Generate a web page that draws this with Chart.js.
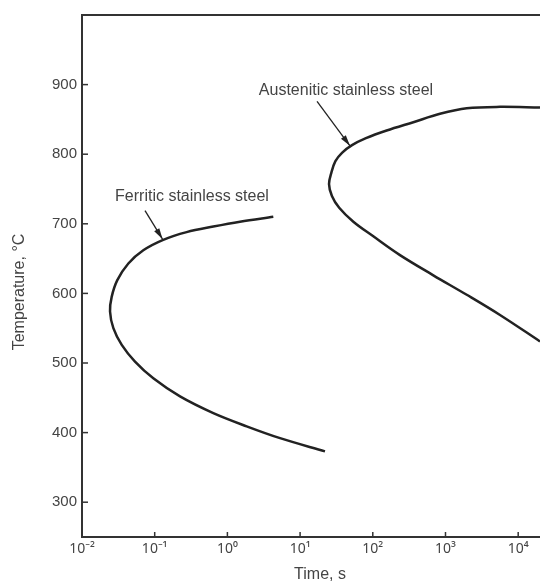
<!DOCTYPE html>
<html lang="en">
<head>
<meta charset="UTF-8">
<title>Ferritic and austenitic stainless steel</title>
<script src="https://cdn.jsdelivr.net/npm/chart.js"></script>
<style>
    body { margin: 0; background: #fff; }
    #wrap { position: relative; width: 540px; height: 581px; }
</style>
</head>
<body>
<div id="wrap"><canvas id="steel-chart"></canvas></div>
<script>
    // axis ticks
    const timeTicks = [1e-2, 1e-1, 1e0, 1e1, 1e2, 1e3, 1e4];
    const timeTickLabels = ['10⁻²', '10⁻¹', '10⁰', '10¹', '10²', '10³', '10⁴'];
    const tempTicks = [300, 400, 500, 600, 700, 800, 900];

    // ferritic curve: upper end -> nose -> lower end
    const ferriticTime = [4.28, 1.49, 0.64, 0.275, 0.131, 0.0697, 0.0434, 0.0306, 0.0256, 0.0243,
        0.027, 0.0352, 0.0536, 0.0957, 0.223, 0.64, 1.84, 5.3, 22];
    const ferriticTemp = [710, 703, 696, 688, 677, 662, 643, 619, 595, 574,
        550, 526, 502, 478, 452, 428, 409, 392, 373];

    // austenitic curve: upper end -> nose -> lower end
    const austeniticTime = [19950, 5620, 1960, 840, 361, 155, 80.5, 51.8, 37.7, 30.6, 27.0, 25.0,
        27.4, 34.5, 54, 101.6, 236.6, 680, 1960, 5620, 19950];
    const austeniticTemp = [867, 868, 866, 858, 846, 834, 823, 813, 802, 790, 774, 757,
        740, 723, 703, 682, 655, 626, 598, 569, 531];

    // callouts
    const curveNames = ['Ferritic stainless steel', 'Austenitic stainless steel'];
    const nameTime = [0.326, 42.8];
    const nameTemp = [739, 891];
    const arrowFromTime = [0.0736, 17.1];
    const arrowFromTemp = [719, 876];
    const arrowToTime = [0.128, 48.5];
    const arrowToTemp = [678, 812];

    const INK = '#222';
    const TEXT = '#444';
    const FONT = '"Liberation Sans", "Noto Sans", Arial, sans-serif';

    function toPoints(xs, ys) {
        return xs.map((t, i) => ({ x: t, y: ys[i] }));
    }

    const frameAndNotes = {
        id: 'frameAndNotes',
        afterDraw(chart) {
            const { ctx, chartArea: area, scales: { x, y } } = chart;
            ctx.save();

            // top edge of the frame
            ctx.strokeStyle = '#333';
            ctx.lineWidth = 2;
            ctx.beginPath();
            ctx.moveTo(area.left, area.top);
            ctx.lineTo(area.right, area.top);
            ctx.stroke();

            // inward tick marks
            ctx.lineWidth = 1.5;
            tempTicks.forEach(v => {
                const py = y.getPixelForValue(v);
                ctx.beginPath();
                ctx.moveTo(area.left, py);
                ctx.lineTo(area.left + 6, py);
                ctx.stroke();
            });
            timeTicks.forEach(v => {
                const px = x.getPixelForValue(v);
                ctx.beginPath();
                ctx.moveTo(px, area.bottom);
                ctx.lineTo(px, area.bottom - 5);
                ctx.stroke();
            });

            // curve names with arrows
            ctx.font = '16px ' + FONT;
            ctx.textAlign = 'center';
            ctx.textBaseline = 'middle';
            curveNames.forEach((name, i) => {
                ctx.fillStyle = TEXT;
                ctx.fillText(name, x.getPixelForValue(nameTime[i]), y.getPixelForValue(nameTemp[i]));

                const x0 = x.getPixelForValue(arrowFromTime[i]);
                const y0 = y.getPixelForValue(arrowFromTemp[i]);
                const x1 = x.getPixelForValue(arrowToTime[i]);
                const y1 = y.getPixelForValue(arrowToTemp[i]);
                const ang = Math.atan2(y1 - y0, x1 - x0);
                const c = Math.cos(ang), s = Math.sin(ang);
                ctx.strokeStyle = INK;
                ctx.fillStyle = INK;
                ctx.lineWidth = 1.3;
                ctx.beginPath();
                ctx.moveTo(x0, y0);
                ctx.lineTo(x1, y1);
                ctx.stroke();
                ctx.beginPath();
                ctx.moveTo(x1, y1);
                ctx.lineTo(x1 - 11 * c + 3 * s, y1 - 11 * s - 3 * c);
                ctx.lineTo(x1 - 11 * c - 3 * s, y1 - 11 * s + 3 * c);
                ctx.closePath();
                ctx.fill();
            });

            // axis titles
            ctx.fillStyle = TEXT;
            ctx.fillText('Time, s', 320, 575);
            ctx.translate(20, 292);
            ctx.rotate(-Math.PI / 2);
            ctx.fillText('Temperature, °C', 0, 0);

            ctx.restore();
        }
    };

    const curveStyle = {
        borderColor: INK,
        borderWidth: 2.5,
        pointRadius: 0,
        showLine: true,
        tension: 0.35,
        fill: false
    };

    new Chart(document.getElementById('steel-chart'), {
        type: 'scatter',
        data: {
            datasets: [
                Object.assign({ label: curveNames[0], data: toPoints(ferriticTime, ferriticTemp) }, curveStyle),
                Object.assign({ label: curveNames[1], data: toPoints(austeniticTime, austeniticTemp) }, curveStyle)
            ]
        },
        options: {
            responsive: true,
            maintainAspectRatio: false,
            animation: false,
            events: [],
            layout: { padding: { top: 15, right: 0, bottom: 0, left: 0 } },
            plugins: {
                legend: { display: false },
                tooltip: { enabled: false }
            },
            scales: {
                x: {
                    type: 'logarithmic',
                    min: 0.01,
                    max: Math.pow(10, 4.3),
                    grid: { display: false, drawTicks: false },
                    border: { display: true, color: '#333', width: 2 },
                    afterBuildTicks: scale => { scale.ticks = timeTicks.map(v => ({ value: v })); },
                    afterFit: scale => { scale.height = 44; },
                    ticks: {
                        autoSkip: false,
                        maxRotation: 0,
                        padding: 4,
                        color: TEXT,
                        font: { family: '"Noto Sans", sans-serif', size: 14 },
                        callback: (v, i) => timeTickLabels[i]
                    }
                },
                y: {
                    min: 250,
                    max: 1000,
                    grid: { display: false, drawTicks: false },
                    border: { display: true, color: '#333', width: 2 },
                    afterBuildTicks: scale => { scale.ticks = tempTicks.map(v => ({ value: v })); },
                    afterFit: scale => { scale.width = 82; },
                    ticks: {
                        padding: 5,
                        color: TEXT,
                        font: { family: FONT, size: 15 }
                    }
                }
            }
        },
        plugins: [frameAndNotes]
    });
</script>
</body>
</html>
